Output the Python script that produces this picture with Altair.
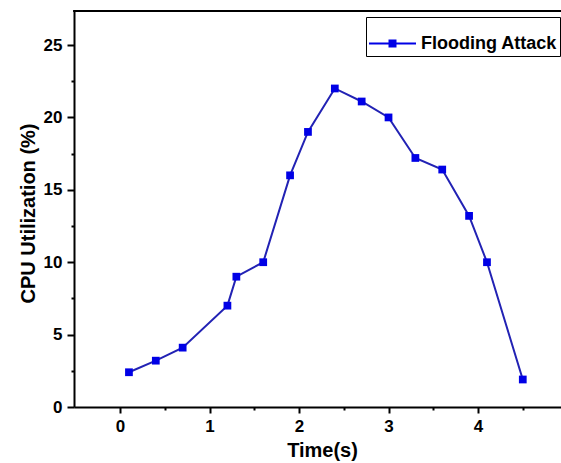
import altair as alt
import pandas as pd

time_s = [0.1, 0.4, 0.7, 1.2, 1.3, 1.6, 1.9, 2.1, 2.4, 2.7, 3.0, 3.3, 3.6, 3.9, 4.1, 4.5]
cpu = [2.4, 3.2, 4.1, 7.0, 9.0, 10.0, 16.0, 19.0, 22.0, 21.1, 20.0, 17.2, 16.4, 13.2, 10.0, 1.9]
series_name = "Flooding Attack"
x_major = [0, 1, 2, 3, 4]
x_minor = [0.5, 1.5, 2.5, 3.5, 4.5]
y_major = [0, 5, 10, 15, 20, 25]
y_minor = [2.5, 7.5, 12.5, 17.5, 22.5]

df = pd.DataFrame({"t": time_s, "cpu": cpu, "series": [series_name] * len(time_s)})

FONT = "Liberation Sans"
BLUE_LINE = "#2222B4"
BLUE_PT = "#0000E6"
W, H = 487, 397
xdom = [-0.514, 4.927]
ydom = [0, 27.42]

xscale = alt.Scale(domain=xdom, nice=False, zero=False)
yscale = alt.Scale(domain=ydom, nice=False, zero=False)

common_axis = dict(
    domainColor="black", domainWidth=2, tickColor="black", tickWidth=2,
    grid=False, labelFont=FONT, labelFontSize=17, labelFontWeight="bold",
    labelColor="black", titleFont=FONT, titleFontSize=20, titleFontWeight="bold",
    titleColor="black",
)

x_axis = alt.Axis(values=x_major, format="d", tickSize=6, labelPadding=5,
                  title="Time(s)", titlePadding=6, titleX=248, orient="bottom",
                  **common_axis)
y_axis = alt.Axis(values=y_major, format="d", tickSize=7, labelPadding=5,
                  title="CPU Utilization (%)", titlePadding=5, titleY=203,
                  orient="left", **common_axis)

minor_axis = dict(domain=False, labels=False, title=None, tickColor="black",
                  tickWidth=2, tickSize=3, grid=False)
x_axis_minor = alt.Axis(values=x_minor, orient="bottom", **minor_axis)
y_axis_minor = alt.Axis(values=y_minor, orient="left", **minor_axis)

base = alt.Chart(df)

line = base.mark_line(color=BLUE_LINE, strokeWidth=2).encode(
    x=alt.X("t:Q", scale=xscale, axis=x_axis),
    y=alt.Y("cpu:Q", scale=yscale, axis=y_axis),
)

legend_path = "M-1,-0.045H1V0.045H-1Z M-0.17,-0.17H0.17V0.17H-0.17Z"

points = base.mark_point(shape="square", filled=True, size=60, opacity=1).encode(
    x=alt.X("t:Q", scale=xscale, axis=None),
    y=alt.Y("cpu:Q", scale=yscale, axis=None),
    color=alt.Color(
        "series:N",
        scale=alt.Scale(range=[BLUE_PT]),
        legend=alt.Legend(
            title=None, orient="none", legendX=292, legendY=7,
            symbolType=legend_path, symbolSize=2209, symbolOpacity=1,
            symbolStrokeWidth=0, labelFont=FONT, labelFontSize=18,
            labelFontWeight="bold", labelColor="black", labelOffset=5,
            strokeColor="black", padding=3, fillColor="white",
        ),
    ),
)

minor = base.mark_point(opacity=0).encode(
    x=alt.X("t:Q", scale=xscale, axis=x_axis_minor),
    y=alt.Y("cpu:Q", scale=yscale, axis=y_axis_minor),
)

frame_df = pd.DataFrame({
    "x0": [xdom[0] - 0.01], "x1": [xdom[1] + 0.05],
    "y0": [ydom[1] - 0.14], "y1": [ydom[1]],
})
top_border = alt.Chart(frame_df).mark_rect(
    color="black", opacity=1, stroke=None
).encode(
    x=alt.X("x0:Q", scale=xscale, axis=None),
    x2="x1:Q",
    y=alt.Y("y0:Q", scale=yscale, axis=None),
    y2="y1:Q",
)

chart = alt.layer(minor, line, points, top_border).resolve_axis(
    x="independent", y="independent"
).properties(
    width=W, height=H,
    autosize=alt.AutoSizeParams(type="none"),
    padding={"left": 74, "top": 10, "right": 0, "bottom": 56},
).configure_view(stroke=None).configure(background="white")

chart.save("out.html", embed_options={"renderer": "svg", "actions": False})
